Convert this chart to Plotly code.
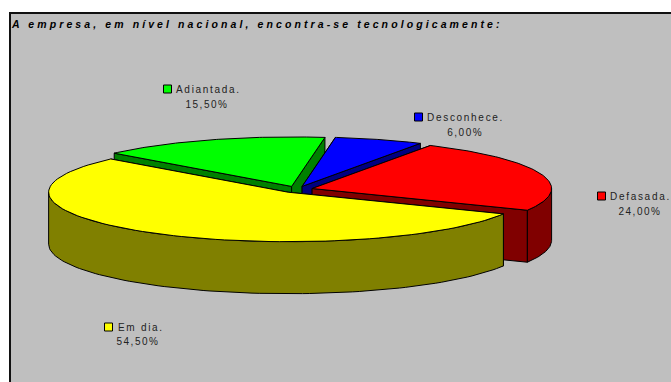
import numpy as np
import plotly.graph_objects as go

categories = ["Desconhece.", "Defasada.", "Em dia.", "Adiantada."]
values = [6.0, 24.0, 54.5, 15.5]
percent_labels = ["6,00%", "24,00%", "54,50%", "15,50%"]
top_colors = ["#0000FF", "#FF0000", "#FFFF00", "#00FF00"]
side_colors = ["#000080", "#800000", "#808000", "#008000"]
paint_order = [3, 0, 1, 2]
title_text = "A empresa, em nível nacional, encontra-se tecnologicamente:"

legend_pos = [(418.5, 117, 425, 465, 132), (601.5, 196, 608, 640, 211),
              (108.5, 327, 116, 138, 341), (167.5, 89, 174, 207, 104)]

CX, CY, RX, RY, H, EXPL = 297.0, 189.5, 239.5, 49.5, 52.0, 0.066
START = 8.0
BG = "#BFBFBF"

edges = START + np.concatenate([[0], np.cumsum(values)]) * 3.6


def pt(theta_deg, ax, ay):
    t = np.radians(theta_deg)
    return ax + RX * np.sin(t), ay - RY * np.cos(t)


fig = go.Figure()


def poly(xs, ys, color):
    fig.add_trace(go.Scatter(x=list(xs) + [xs[0]], y=list(ys) + [ys[0]], mode="lines",
                             fill="toself", fillcolor=color,
                             line=dict(color="black", width=1), hoverinfo="skip",
                             showlegend=False))


for i in paint_order:
    a0, a1 = edges[i], edges[i + 1]
    mid = np.radians((a0 + a1) / 2)
    ax = CX + EXPL * RX * np.sin(mid)
    ay = CY - EXPL * RY * np.cos(mid)
    th = np.linspace(a0, a1, 90)
    rx, ry = pt(th, ax, ay)
    for a in (a0, a1):
        ex, ey = pt(a, ax, ay)
        poly([ax, ex, ex, ax], [ay, ey, ey + H, ay + H], side_colors[i])
    lo, hi = max(a0, 90.0), min(a1, 270.0)
    if hi > lo:
        tr = np.linspace(lo, hi, 90)
        fx, fy = pt(tr, ax, ay)
        poly(list(fx) + list(fx[::-1]), list(fy) + list(fy[::-1] + H), side_colors[i])
    poly([ax] + list(rx), [ay] + list(ry), top_colors[i])

for i, (sx, sy, tx, px, py) in enumerate(legend_pos):
    fig.add_trace(go.Scatter(x=[sx], y=[sy], mode="markers", showlegend=False, hoverinfo="skip",
                             marker=dict(symbol="square", size=8, color=top_colors[i],
                                         line=dict(color="black", width=1))))
    fig.add_annotation(x=tx, y=sy, text=categories[i], xanchor="left", yanchor="middle", showarrow=False,
                       font=dict(family="Liberation Sans", size=10, color="#222222"))
    fig.add_annotation(x=px, y=py, text=percent_labels[i], xanchor="center", yanchor="middle", showarrow=False,
                       font=dict(family="Liberation Sans", size=10, color="#222222"))

fig.add_annotation(x=9, y=24, text="<b><i>" + title_text + "</i></b>", xanchor="left", yanchor="middle",
                   showarrow=False, font=dict(family="Liberation Sans", size=10.5, color="black"))

fig.add_shape(type="rect", x0=10, y0=13, x1=674, y1=390, line=dict(color="#111111", width=2),
              fillcolor=BG, layer="below")

fig.update_layout(width=671, height=382, margin=dict(l=0, r=0, t=0, b=0), autosize=False,
                  paper_bgcolor="white", plot_bgcolor="white", showlegend=False,
                  xaxis=dict(range=[0, 671], visible=False, fixedrange=True),
                  yaxis=dict(range=[382, 0], visible=False, fixedrange=True))

post = """document.body.style.margin='0';document.documentElement.style.overflow='hidden';
document.querySelectorAll('.annotation-text').forEach(function(t){
  var s=t.textContent, b0=t.getBBox();
  t.style.letterSpacing = s.indexOf('empresa')>=0 ? '3.1px' : (s.indexOf('%')>=0 ? '1.5px' : '1.7px');
  if(s.indexOf('%')<0){var b1=t.getBBox();
    t.setAttribute('x', parseFloat(t.getAttribute('x')||0)+(b0.x-b1.x));}
});"""
fig.write_html("out.html", post_script=post, config={"displayModeBar": False})
